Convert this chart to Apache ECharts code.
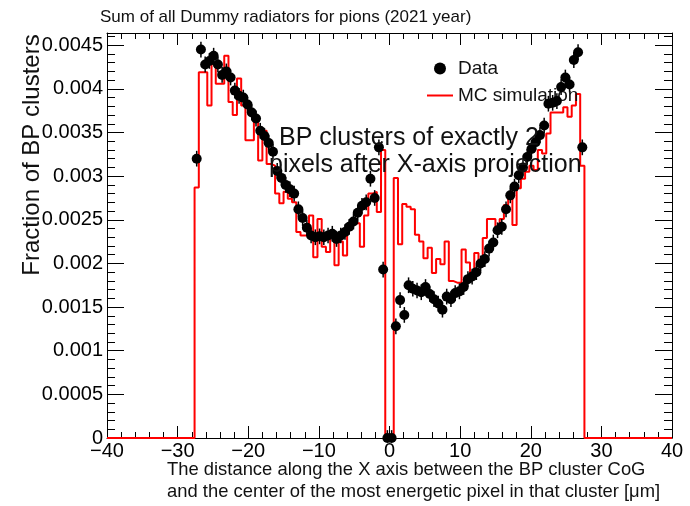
<!DOCTYPE html>
<html>
<head>
<meta charset="utf-8">
<script src="https://cdn.jsdelivr.net/npm/echarts@6/dist/echarts.min.js"></script>
<style>
html,body{margin:0;padding:0;background:#ffffff;}
#chart{width:690px;height:506px;}
</style>
</head>
<body>
<div id="chart"></div>
<script>
// ---- data ----
const binStart = -27.6;   // left edge of first filled bin [um]
const binWidth = 0.6;     // bin width [um]

const mcValues = [
  0.00287, 0.00419, 0.00419, 0.00381, 0.00429, 0.00406, 0.00406, 0.00438, 0.00385, 0.00370,
  0.00412, 0.00381, 0.00341, 0.00341, 0.00364, 0.00318, 0.00352, 0.00314, 0.00312, 0.00280,
  0.00269, 0.00282, 0.00274, 0.00270, 0.00236, 0.00232, 0.00232, 0.00255, 0.00207, 0.00251,
  0.00219, 0.00213, 0.00234, 0.00198, 0.00225, 0.00209, 0.00242, 0.00246, 0.00246, 0.00219,
  0.00255, 0.00280, 0.00282, 0.00259, 0.00330, 0, 0, 0.00298, 0.00222, 0.00268,
  0.00265, 0.00262, 0.00233, 0.00225, 0.00206, 0.00218, 0.00189, 0.00205, 0.00199, 0.00225,
  0.00180, 0.00178, 0.00178, 0.00216, 0.00201, 0.00189, 0.00212, 0.00199, 0.00229, 0.00251,
  0.00251, 0.00242, 0.00251, 0.00267, 0.00278, 0.00244, 0.00286, 0.00297, 0.00305, 0.00312,
  0.00307, 0.00330, 0.00326, 0.00349, 0.00373, 0.00373, 0.00373, 0.00379, 0.00368, 0.00381,
  0.00394, 0.00312
];

const dataValues = [
  0.00320, 0.00445, 0.00428, 0.00432, 0.00438, 0.00428, 0.00416, 0.00420, 0.00413, 0.00398,
  0.00392, 0.00390, 0.00382, 0.00373, 0.00366, 0.00352, 0.00346, 0.00338, 0.00328, 0.00306,
  0.00298, 0.00290, 0.00285, 0.00280, 0.00262, 0.00252, 0.00241, 0.00232, 0.00230, 0.00231,
  0.00230, 0.00232, 0.00234, 0.00228, 0.00232, 0.00236, 0.00242, 0.00248, 0.00258, 0.00266,
  0.00270, 0.00297, 0.00275, 0.00333, 0.00193, 0, 0, 0.00128, 0.00158, 0.00141,
  0.00175, 0.00171, 0.00169, 0.00167, 0.00173, 0.00165, 0.00159, 0.00154, 0.00147, 0.00162,
  0.00159, 0.00166, 0.00168, 0.00173, 0.00182, 0.00185, 0.00190, 0.00200, 0.00205, 0.00217,
  0.00224, 0.00238, 0.00242, 0.00262, 0.00278, 0.00288, 0.00301, 0.00310, 0.00322, 0.00331,
  0.00339, 0.00347, 0.00358, 0.00383, 0.00384, 0.00386, 0.00402, 0.00413, 0.00405, 0.00433,
  0.00442, 0.00333
];
const dataErr = 0.00009;

const xTickLabels = ['\u221240', '\u221230', '\u221220', '\u221210', '0', '10', '20', '30', '40'];
const yTickLabels = ['0', '0.0005', '0.001', '0.0015', '0.002', '0.0025', '0.003', '0.0035', '0.004', '0.0045'];

const titleText = 'Sum of all Dummy radiators for pions (2021 year)';
const xTitleLines = ['The distance along the X axis between the BP cluster CoG',
                     'and the center of the most energetic pixel in that cluster [\u03bcm]'];
const yTitle = 'Fraction of BP clusters';
const noteLines = ['BP clusters of exactly 2', 'pixels after X-axis projection'];
const legendNames = ['Data', 'MC simulation'];

// ---- build series data ----
const xMin = -40, xMax = 40, yMin = 0, yMax = 0.00464;
const nBins = mcValues.length;
const mcLine = [[xMin, 0]];
for (let i = 0; i < nBins; i++) mcLine.push([binStart + binWidth * i, mcValues[i]]);
mcLine.push([binStart + binWidth * nBins, 0]);
mcLine.push([xMax, 0]);

const dataPoints = dataValues.map((v, i) => [binStart + binWidth * (i + 0.5), v]);
const errPoints = dataPoints.map(p => [p[0], p[1], dataErr]);

const FONT = 'Liberation Sans, Arial, Helvetica, sans-serif';

function xFmt(v) {
  const idx = Math.round((v - xMin) / 10);
  return xTickLabels[idx] !== undefined ? xTickLabels[idx] : '';
}
function yFmt(v) {
  const k = v / 0.0005;
  if (Math.abs(k - Math.round(k)) > 1e-6) return '';
  const lab = yTickLabels[Math.round(k)];
  return lab !== undefined ? lab : '';
}

const axisLineStyle = {show: true, onZero: false, lineStyle: {color: '#000', width: 1}};
const noLine = {show: false, onZero: false};

const chart = echarts.init(document.getElementById('chart'), null, {renderer: 'canvas'});
chart.setOption({
  animation: false,
  backgroundColor: '#ffffff',
  textStyle: {fontFamily: FONT},
  title: {
    text: titleText, left: 95, top: 4,
    textStyle: {fontSize: 17, fontWeight: 'normal', color: '#111', fontFamily: FONT}
  },
  grid: {left: 107, right: 18, top: 33, bottom: 68, containLabel: false},
  legend: {
    orient: 'vertical', left: 426, top: 59, padding: 0,
    itemWidth: 26, itemHeight: 12, itemGap: 8,
    textStyle: {fontSize: 19, color: '#111', fontFamily: FONT},
    data: [
      {name: legendNames[0], icon: 'circle'},
      {name: legendNames[1], itemStyle: {opacity: 0}}
    ]
  },
  xAxis: [
    {
      type: 'value', position: 'bottom', min: xMin, max: xMax, interval: 10,
      axisLine: axisLineStyle,
      axisTick: {show: true, inside: true, length: 12, lineStyle: {color: '#000'}},
      minorTick: {show: true, splitNumber: 5, length: 6, lineStyle: {color: '#000'}},
      splitLine: {show: false},
      axisLabel: {show: true, formatter: xFmt, fontSize: 20, color: '#000', margin: 3, fontFamily: FONT}
    },
    {
      type: 'value', position: 'top', min: xMin, max: xMax, interval: 10,
      axisLine: axisLineStyle,
      axisTick: {show: true, inside: true, length: 12, lineStyle: {color: '#000'}},
      minorTick: {show: true, splitNumber: 5, length: 6, lineStyle: {color: '#000'}},
      splitLine: {show: false},
      axisLabel: {show: false}
    }
  ],
  yAxis: [
    {
      type: 'value', position: 'left', min: yMin, max: yMax, interval: 0.0005,
      axisLine: axisLineStyle,
      axisTick: {show: true, inside: true, length: 17, lineStyle: {color: '#000'}},
      splitLine: {show: false},
      axisLabel: {show: true, formatter: yFmt, fontSize: 20, color: '#000', margin: 4,
                  showMaxLabel: false, fontFamily: FONT}
    },
    {
      type: 'value', position: 'left', min: yMin, max: yMax, interval: 0.0001,
      axisLine: noLine,
      axisTick: {show: true, inside: true, length: 8, lineStyle: {color: '#000'}},
      splitLine: {show: false},
      axisLabel: {show: false}
    },
    {
      type: 'value', position: 'right', min: yMin, max: yMax, interval: 0.0005,
      axisLine: axisLineStyle,
      axisTick: {show: true, inside: true, length: 17, lineStyle: {color: '#000'}},
      splitLine: {show: false},
      axisLabel: {show: false}
    },
    {
      type: 'value', position: 'right', min: yMin, max: yMax, interval: 0.0001,
      axisLine: noLine,
      axisTick: {show: true, inside: true, length: 8, lineStyle: {color: '#000'}},
      splitLine: {show: false},
      axisLabel: {show: false}
    }
  ],
  graphic: [
    {
      type: 'text', x: 32, y: 155, rotation: Math.PI / 2, z: 10,
      style: {text: yTitle, fontSize: 24, fontFamily: FONT, fill: '#111',
              textAlign: 'center', textVerticalAlign: 'middle', align: 'center', verticalAlign: 'middle'}
    },
    {
      type: 'text', left: 167, top: 459, z: 10,
      style: {text: xTitleLines.join('\n'), fontSize: 18.4, lineHeight: 22, fontFamily: FONT, fill: '#111'}
    },
    {
      type: 'text', left: 279, top: 126, z: 10,
      style: {text: noteLines[0], fontSize: 25, fontFamily: FONT, fill: '#111'}
    },
    {
      type: 'text', left: 269, top: 153, z: 10,
      style: {text: noteLines[1], fontSize: 25, fontFamily: FONT, fill: '#111'}
    }
  ],
  series: [
    {
      name: legendNames[1], type: 'line', step: 'end', data: mcLine,
      xAxisIndex: 0, yAxisIndex: 0, symbol: 'none', showSymbol: false,
      lineStyle: {color: '#ff0000', width: 2}, itemStyle: {color: '#ff0000'},
      z: 2, silent: true
    },
    {
      name: 'errors', type: 'custom', data: errPoints, xAxisIndex: 0, yAxisIndex: 0,
      encode: {x: 0, y: 1}, z: 3, silent: true,
      renderItem: function (params, api) {
        const x = api.value(0), y = api.value(1), e = api.value(2);
        const p1 = api.coord([x, Math.max(0, y - e)]);
        const p2 = api.coord([x, y + e]);
        return {type: 'line', shape: {x1: p1[0], y1: p1[1], x2: p2[0], y2: p2[1]},
                style: {stroke: '#000', lineWidth: 1.5}};
      }
    },
    {
      name: legendNames[0], type: 'scatter', data: dataPoints,
      xAxisIndex: 0, yAxisIndex: 0, symbol: 'circle', symbolSize: 10,
      itemStyle: {color: '#000', opacity: 1}, z: 4, silent: true
    }
  ]
});
</script>
</body>
</html>
